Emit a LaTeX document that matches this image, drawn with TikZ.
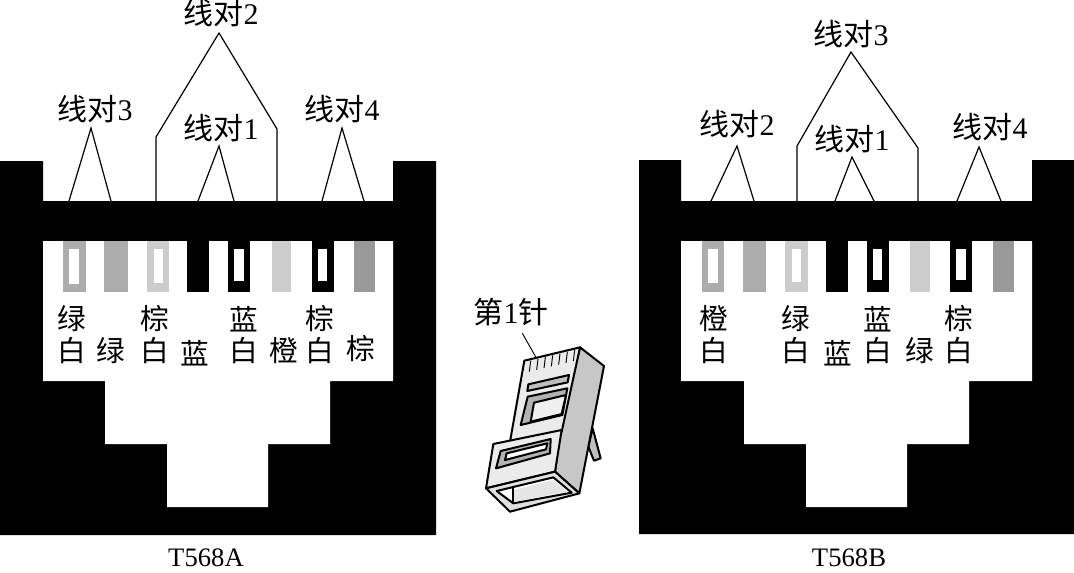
\documentclass[tikz,border=0pt]{standalone}
\usepackage{fontspec}
\setmainfont{Liberation Serif}
\newfontfamily\cjk{Noto Sans CJK SC}
\tikzset{
  pairlabel/.style={inner sep=0pt, font=\fontsize{22.5}{22.5}\selectfont},
  pinlabel/.style={inner sep=0pt, font=\cjk\fontsize{21.5}{21.5}\selectfont},
  caption/.style={inner sep=0pt, font=\fontsize{20}{20}\selectfont},
  pairline/.style={draw=black, line width=0.9pt, line join=miter},
  plug/.style={draw=black, line width=1.5pt, line join=round}
}
% pin with a white slot: left, right, grey level, slot left, slot right, slot bottom
\newcommand{\slotpin}[6]{
  \fill[black!#3] (#1,241) rectangle (#2,292);
  \fill[white] (#4,249) rectangle (#5,#6);
}
\newcommand{\flatpin}[3]{
  \fill[black!#3] (#1,241) rectangle (#2,292);
}
\begin{document}
\begin{tikzpicture}[x=0.75pt, y=-0.75pt]
\useasboundingbox (0,0) rectangle (1074,572);
\fill[white] (0,0) rectangle (1074,572);

% T568A socket
\fill[black] (0,161) -- (43,161) -- (43,201) -- (393,201) -- (393,161) -- (436,161) -- (436,535) -- (0,535) -- cycle;
\fill[white] (43,241) -- (393,241) -- (393,381) -- (330,381) -- (330,444) -- (268,444) -- (268,507)
  -- (167,507) -- (167,444) -- (105,444) -- (105,381) -- (43,381) -- cycle;
\slotpin{63}{86}{32}{69}{79}{284}
\flatpin{104}{128}{32}
\slotpin{147}{169}{20}{154}{163}{283}
\flatpin{187}{209}{100}
\slotpin{228}{250}{100}{234}{244}{281}
\flatpin{272}{291}{20}
\slotpin{312}{334}{100}{318}{327}{281}
\flatpin{354}{375}{40}

% T568B socket
\fill[black] (639,160) -- (681,160) -- (681,201) -- (1032,201) -- (1032,160) -- (1074,160) -- (1074,534) -- (639,534) -- cycle;
\fill[white] (681,241) -- (1032,241) -- (1032,381) -- (969,381) -- (969,444) -- (907,444) -- (907,507)
  -- (806,507) -- (806,444) -- (744,444) -- (744,381) -- (681,381) -- cycle;
\slotpin{702}{724}{32}{708}{718}{283}
\flatpin{743}{766}{32}
\slotpin{785}{808}{20}{792}{801}{282}
\flatpin{826}{848}{100}
\slotpin{867}{889}{100}{873}{882}{280}
\flatpin{910}{930}{20}
\slotpin{950}{972}{100}{956}{966}{280}
\flatpin{993}{1014}{40}

% pair labels
\node[pairlabel] (a2) at (221,13) {{\cjk 线对}2};
\node[pairlabel] (a3) at (95,109) {{\cjk 线对}3};
\node[pairlabel] (a1) at (221,128) {{\cjk 线对}1};
\node[pairlabel] (a4) at (342,109) {{\cjk 线对}4};
\node[pairlabel] (b3) at (851,34) {{\cjk 线对}3};
\node[pairlabel] (b2) at (737,124) {{\cjk 线对}2};
\node[pairlabel] (b1) at (852,139) {{\cjk 线对}1};
\node[pairlabel] (b4) at (990,127) {{\cjk 线对}4};

% pair lines
\coordinate (a3top) at (91,128);
\coordinate (a2top) at (219,33);
\coordinate (a1top) at (219,146);
\coordinate (a4top) at (342,128);
\coordinate (b3top) at (851,52);
\coordinate (b2top) at (737,146);
\coordinate (b1top) at (852,157);
\coordinate (b4top) at (979,147);
\draw[pairline] (69,201) -- (a3top) -- (111,201);
\draw[pairline] (156,201) -- (156,137) -- (a2top) -- (277,129) -- (277,201);
\draw[pairline] (198,201) -- (a1top) -- (234,201);
\draw[pairline] (322,201) -- (a4top) -- (364,201);
\draw[pairline] (711,201) -- (b2top) -- (754,201);
\draw[pairline] (797,201) -- (797,146) -- (b3top) -- (918,148) -- (918,201);
\draw[pairline] (835,201) -- (b1top) -- (874,201);
\draw[pairline] (957,201) -- (b4top) -- (1001,201);

% pin labels
\node[pinlabel] (a1u) at (72,319) {绿};
\node[pinlabel] (a1d) at (72,351) {白};
\node[pinlabel] (a2d) at (111,351) {绿};
\node[pinlabel] (a3u) at (155,319) {棕};
\node[pinlabel] (a3d) at (155,351) {白};
\node[pinlabel] (a4d) at (195,353) {蓝};
\node[pinlabel] (a5u) at (244,319) {蓝};
\node[pinlabel] (a5d) at (244,351) {白};
\node[pinlabel] (a6d) at (284,351) {橙};
\node[pinlabel] (a7u) at (320,319) {棕};
\node[pinlabel] (a7d) at (320,351) {白};
\node[pinlabel] (a8d) at (361,349) {棕};
\node[pinlabel] (b1u) at (714,319) {橙};
\node[pinlabel] (b1d) at (714,351) {白};
\node[pinlabel] (b3u) at (796,319) {绿};
\node[pinlabel] (b3d) at (796,351) {白};
\node[pinlabel] (b4d) at (838,353) {蓝};
\node[pinlabel] (b5u) at (878,319) {蓝};
\node[pinlabel] (b5d) at (878,351) {白};
\node[pinlabel] (b6d) at (920,351) {绿};
\node[pinlabel] (b7u) at (959,319) {棕};
\node[pinlabel] (b7d) at (959,351) {白};

\node[caption] (capa) at (206,558) {T568A};
\node[caption] (capb) at (849,558) {T568B};
\node[pairlabel] (first) at (511,312) {{\cjk 第}1{\cjk 针}};

% plug, drawn in crop units
\begin{scope}[shift={(460,290)}, x=0.25pt, y=-0.25pt]
\coordinate (leadend) at (228,202);
\draw[line width=0.7pt] (187,130) -- (leadend);
\filldraw[plug, fill=black!25] (398,415) -- (422,505) -- (402,512) -- (385,470) -- cycle;
\filldraw[plug, fill=black!22] (360,172) -- (432,228) -- (358,610) -- (285,545) -- (300,425) -- cycle;
\filldraw[plug, fill=black!8] (193,212) -- (360,172) -- (305,425) -- (150,455) -- cycle;
\filldraw[plug, fill=black!8] (100,462) -- (305,420) -- (285,545) -- (78,595) -- cycle;
\filldraw[plug, fill=black!12] (78,595) -- (285,545) -- (358,610) -- (150,665) -- cycle;
\filldraw[plug, fill=white] (110,603) -- (280,562) -- (335,608) -- (160,640) -- cycle;
\fill[black!10] (160,600) -- (280,570) -- (322,605) -- (163,635) -- cycle;
\draw[plug] (160,595) -- (160,640);
\foreach \i in {0,1,...,6} {
  \draw[line width=0.7pt] ({212+\i*22},{212-\i*5.3}) -- ({208+\i*22},{245-\i*5.3});
}
\filldraw[plug, fill=black!25] (205,283) -- (327,255) -- (323,277) -- (202,303) -- cycle;
\filldraw[plug, fill=black!30] (203,320) -- (322,295) -- (307,375) -- (182,405) -- cycle;
\filldraw[plug, fill=black!6] (222,338) -- (318,315) -- (305,372) -- (212,395) -- cycle;
\filldraw[plug, fill=black!30] (122,483) -- (272,447) -- (270,490) -- (108,535) -- cycle;
\filldraw[plug, fill=white] (140,490) -- (262,460) -- (258,478) -- (135,510) -- cycle;
\end{scope}
\end{tikzpicture}
\end{document}
